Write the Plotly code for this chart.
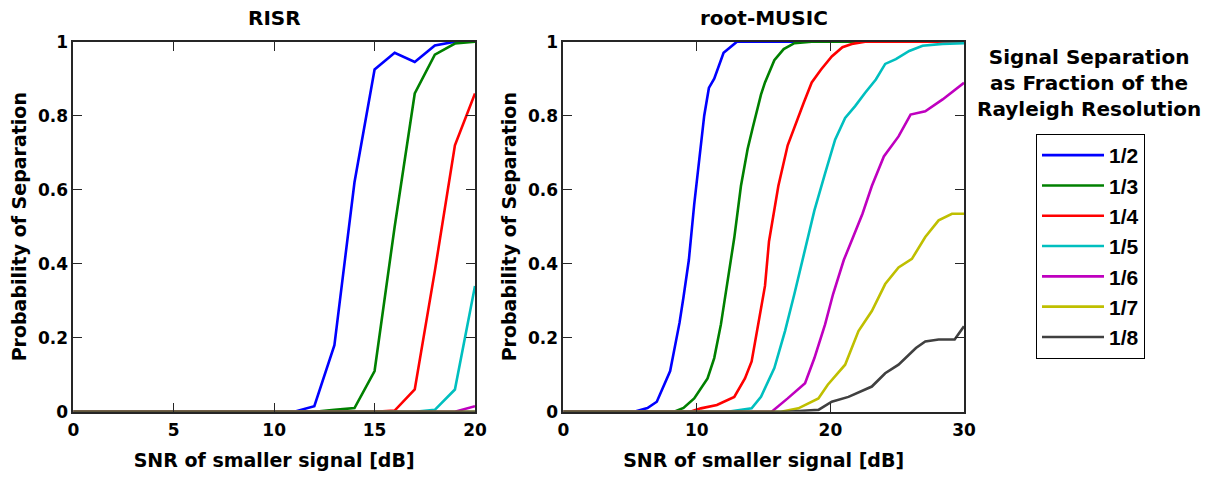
import plotly.graph_objects as go

# ---------------- data ----------------
labels = ["1/2", "1/3", "1/4", "1/5", "1/6", "1/7", "1/8"]
colors = ["#0000FF", "#008000", "#FF0000", "#00BFBF", "#BF00BF", "#BFBF00", "#404040"]

# RISR (SNR 0..20 dB, step 1)
risr_snr = list(range(0, 21))
risr_half = [0]*11 + [0.0, 0.015, 0.18, 0.62, 0.925, 0.97, 0.945, 0.99, 1.0, 1.0]
risr_third = [0]*13 + [0.005, 0.01, 0.11, 0.5, 0.86, 0.965, 0.995, 1.0]
risr_quarter = [0]*16 + [0.003, 0.06, 0.38, 0.72, 0.86]
risr_fifth = [0]*18 + [0.005, 0.06, 0.34]
risr_sixth = [0]*20 + [0.015]
risr_seventh = [0]*21
risr_eighth = [0]*21

# root-MUSIC (SNR 0..30 dB)
rm_half_x = [0, 5.3, 6.3, 7.0, 8.0, 8.7, 9.0, 9.4, 9.8, 10.2, 10.55, 10.9, 11.3, 12.0, 13.0, 30]
rm_half_y = [0, 0, 0.01, 0.027, 0.11, 0.24, 0.31, 0.41, 0.56, 0.69, 0.80, 0.875, 0.90, 0.97, 1.0, 1.0]
rm_third_x = [0, 8.3, 9.0, 9.8, 10.8, 11.3, 11.8, 12.3, 12.8, 13.3, 13.8, 14.2, 14.8, 15.1, 15.8, 16.5, 17.3, 18.6, 30]
rm_third_y = [0, 0, 0.01, 0.036, 0.09, 0.145, 0.236, 0.354, 0.47, 0.61, 0.71, 0.77, 0.857, 0.89, 0.95, 0.98, 0.996, 1.0, 1.0]
rm_quarter_x = [0, 9.5, 10.3, 11.5, 12.8, 13.6, 14.1, 14.6, 15.1, 15.4, 16.1, 16.8, 17.3, 18.0, 18.6, 19.3, 20.1, 20.9, 21.6, 22.6, 30]
rm_quarter_y = [0, 0, 0.009, 0.018, 0.04, 0.09, 0.136, 0.236, 0.34, 0.46, 0.61, 0.72, 0.77, 0.835, 0.89, 0.925, 0.96, 0.985, 0.994, 1.0, 1.0]
rm_fifth_x = [0, 12.3, 14.1, 14.8, 15.8, 16.6, 17.3, 18.1, 18.8, 19.6, 20.35, 21.1, 21.85, 22.6, 23.4, 24.1, 24.9, 25.9, 26.9, 28.4, 30]
rm_fifth_y = [0, 0, 0.009, 0.04, 0.118, 0.218, 0.318, 0.436, 0.544, 0.644, 0.735, 0.794, 0.826, 0.862, 0.898, 0.94, 0.953, 0.975, 0.989, 0.994, 0.996]
rm_sixth_x = [0, 15.6, 16.8, 18.1, 18.8, 19.6, 20.2, 21.0, 21.7, 22.4, 23.1, 24.0, 25.1, 26.0, 27.1, 28.4, 30]
rm_sixth_y = [0, 0, 0.036, 0.077, 0.145, 0.236, 0.318, 0.41, 0.472, 0.535, 0.61, 0.69, 0.744, 0.803, 0.812, 0.844, 0.889]
rm_seventh_x = [0, 16.3, 17.6, 19.1, 19.8, 21.1, 22.1, 23.1, 24.1, 25.1, 26.1, 27.1, 28.1, 29.1, 30]
rm_seventh_y = [0, 0, 0.009, 0.036, 0.073, 0.127, 0.218, 0.272, 0.345, 0.39, 0.413, 0.472, 0.517, 0.535, 0.535]
rm_eighth_x = [0, 16.8, 19.1, 20.1, 21.35, 23.1, 24.1, 25.1, 26.4, 27.1, 28.1, 29.3, 30]
rm_eighth_y = [0, 0, 0.005, 0.027, 0.04, 0.068, 0.104, 0.127, 0.172, 0.19, 0.195, 0.195, 0.231]

risr_series = [risr_half, risr_third, risr_quarter, risr_fifth, risr_sixth, risr_seventh, risr_eighth]
rm_series = [(rm_half_x, rm_half_y), (rm_third_x, rm_third_y), (rm_quarter_x, rm_quarter_y),
             (rm_fifth_x, rm_fifth_y), (rm_sixth_x, rm_sixth_y), (rm_seventh_x, rm_seventh_y),
             (rm_eighth_x, rm_eighth_y)]

# ---------------- figure ----------------
W, H = 1210, 477
AFONT = "DejaVu Sans, sans-serif"
LFONT = "Liberation Sans, Arial, sans-serif"
LW = 2.6
fig = go.Figure()

for lab, col, ys in zip(labels, colors, risr_series):
    fig.add_trace(go.Scatter(x=risr_snr, y=ys, mode="lines", name=lab,
                             line=dict(color=col, width=LW), showlegend=False,
                             xaxis="x", yaxis="y"))
for lab, col, (xs, ys) in zip(labels, colors, rm_series):
    fig.add_trace(go.Scatter(x=xs, y=ys, mode="lines", name=lab,
                             line=dict(color=col, width=LW), showlegend=True,
                             xaxis="x2", yaxis="y2"))

def axis_common():
    return dict(showline=True, linecolor="#262626", linewidth=1.6, mirror="ticks",
                ticks="inside", ticklen=9, tickwidth=1.3, tickcolor="#262626",
                showgrid=False, zeroline=False, layer="above traces", automargin=False,
                tickfont=dict(family=AFONT, size=17, color="black", weight="bold"))

def title(txt, standoff):
    return dict(text=txt, standoff=standoff,
                font=dict(family=AFONT, size=19, color="black", weight="bold"))

ydom = [1 - 411.7 / H, 1 - 41.7 / H]

xa = axis_common()
xa.update(domain=[73.3 / W, 475 / W], range=[0, 20], dtick=5, anchor="y",
          ticklabelstandoff=2, title=title("SNR of smaller signal [dB]", 15))
xa2 = axis_common()
xa2.update(domain=[563.3 / W, 964 / W], range=[0, 30], dtick=10, anchor="y2",
           ticklabelstandoff=2, title=title("SNR of smaller signal [dB]", 15))
ya = axis_common()
ya.update(domain=ydom, range=[0, 1], dtick=0.2, anchor="x",
          title=title("Probability of Separation", 6))
ya2 = axis_common()
ya2.update(domain=ydom, range=[0, 1], dtick=0.2, anchor="x2",
           title=title("Probability of Separation", 6))

fig.update_layout(
    width=W, height=H,
    margin=dict(l=0, r=0, t=0, b=0),
    paper_bgcolor="white", plot_bgcolor="white",
    xaxis=xa, xaxis2=xa2, yaxis=ya, yaxis2=ya2,
    legend=dict(x=1036 / W, y=1 - 134 / H, xanchor="left", yanchor="top",
                bordercolor="black", borderwidth=1, bgcolor="white",
                font=dict(family=LFONT, size=21, color="black", weight="bold"),
                itemwidth=62, tracegroupgap=0),
    annotations=[
        dict(text="RISR", x=(73.3 + 475) / 2 / W, y=1 - 18 / H, xref="paper", yref="paper",
             xanchor="center", yanchor="middle", showarrow=False,
             font=dict(family=AFONT, size=20, color="black", weight="bold")),
        dict(text="root-MUSIC", x=(563.3 + 964) / 2 / W, y=1 - 18 / H, xref="paper", yref="paper",
             xanchor="center", yanchor="middle", showarrow=False,
             font=dict(family=AFONT, size=20, color="black", weight="bold")),
        dict(text="Signal Separation<br>as Fraction of the<br>Rayleigh Resolution",
             x=1089 / W, y=1 - 83 / H, xref="paper", yref="paper", showarrow=False,
             xanchor="center", yanchor="middle", align="center",
             font=dict(family=AFONT, size=20, color="black", weight="bold")),
    ],
)

fig.write_html("out.html")
